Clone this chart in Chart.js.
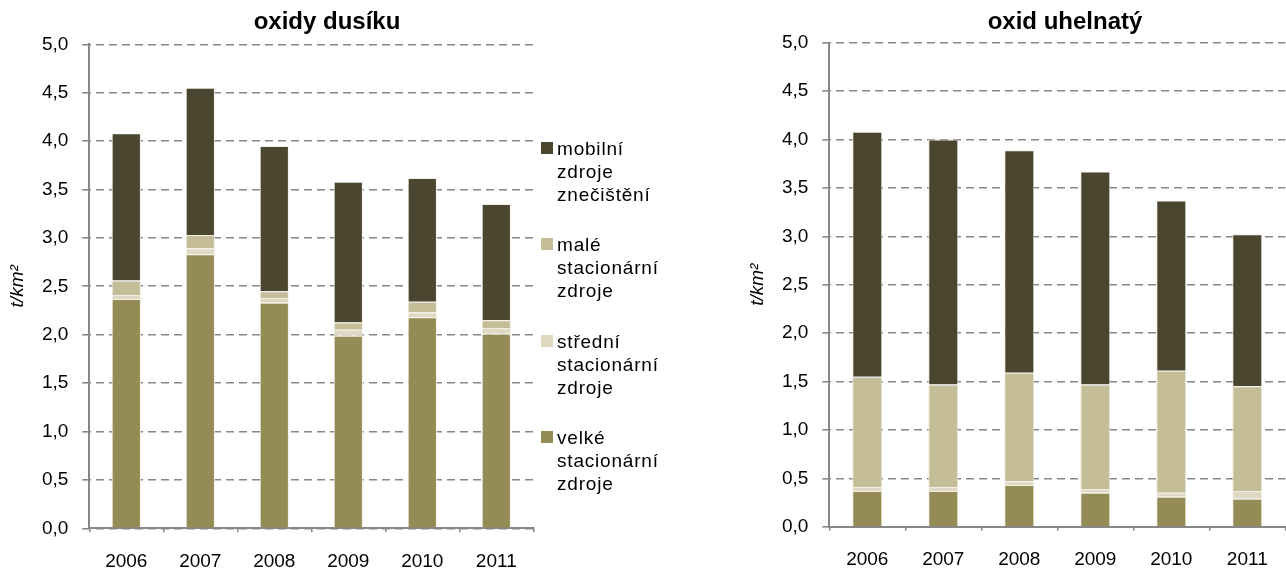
<!DOCTYPE html>
<html>
<head>
<meta charset="utf-8">
<script src="https://cdn.jsdelivr.net/npm/chart.js@4.4.1/dist/chart.umd.min.js"></script>
<style>
    html, body { margin: 0; padding: 0; background: #fff; overflow: hidden; }
    body { width: 1286px; height: 573px; position: relative; font-family: "Liberation Sans", Arial, sans-serif; }
    .box { position: absolute; top: 0; height: 573px; }
    #leftBox { left: 0; width: 654px; }
    #rightBox { left: 740px; width: 650px; }
    #legend { position: absolute; left: 541px; top: 137px; font-size: 19px; line-height: 23px; letter-spacing: 0.8px; color: #000; }
    .item { position: absolute; left: 0; width: 140px; }
    .sw { position: absolute; left: 0; top: 5px; width: 12px; height: 12px; }
    .txt { margin-left: 16px; white-space: nowrap; }
</style>
</head>
<body>
<div class="box" id="leftBox"><canvas id="noxChart"></canvas></div>
<div class="box" id="rightBox"><canvas id="coChart"></canvas></div>
<div id="legend"></div>

<script>
const years = ['2006', '2007', '2008', '2009', '2010', '2011'];

// oxidy dusíku (t/km2)
const noxVelke = [2.37, 2.83, 2.33, 1.99, 2.18, 2.01];
const noxStredni = [0.04, 0.06, 0.05, 0.06, 0.05, 0.06];
const noxMale = [0.15, 0.14, 0.07, 0.075, 0.11, 0.08];
const noxMobilni = [1.52, 1.52, 1.50, 1.455, 1.28, 1.20];

// oxid uhelnatý (t/km2)
const coVelke = [0.37, 0.37, 0.43, 0.35, 0.31, 0.29];
const coStredni = [0.04, 0.04, 0.04, 0.04, 0.04, 0.08];
const coMale = [1.14, 1.06, 1.12, 1.08, 1.26, 1.08];
const coMobilni = [2.53, 2.53, 2.30, 2.20, 1.76, 1.57];

const seriesNames = [
    ['velké', 'stacionární', 'zdroje'],
    ['střední', 'stacionární', 'zdroje'],
    ['malé', 'stacionární', 'zdroje'],
    ['mobilní', 'zdroje', 'znečištění']
];
const seriesColors = ['#958b55', '#dfd9c3', '#c5bd98', '#4a4630'];

const yTicks = [0, 0.5, 1, 1.5, 2, 2.5, 3, 3.5, 4, 4.5, 5];

const FONT = '"Liberation Sans", Arial, sans-serif';
const GRAY = '#878787';
const TITLE_SIZE = 24;

function makeDatasets(series) {
    return series.map((values, i) => ({
        label: seriesNames[i].join(' '),
        data: values,
        backgroundColor: seriesColors[i],
        borderColor: '#f1efe6',
        borderWidth: 1,
        categoryPercentage: 1,
        barPercentage: 0.395
    }));
}

function makeChart(id, title, series, rightSpace, plotTop, plotBottom) {
    const titleTop = 22 - TITLE_SIZE * 0.6;
    const titleBottom = plotTop - titleTop - TITLE_SIZE * 1.2;
    return new Chart(document.getElementById(id), {
        type: 'bar',
        data: { labels: years, datasets: makeDatasets(series) },
        options: {
            responsive: true,
            maintainAspectRatio: false,
            animation: false,
            layout: { padding: 0 },
            plugins: {
                legend: { display: false },
                tooltip: { enabled: false },
                title: {
                    display: true,
                    text: title,
                    color: '#000',
                    font: { family: FONT, size: TITLE_SIZE, weight: 'bold' },
                    padding: { top: titleTop, bottom: titleBottom }
                }
            },
            scales: {
                x: {
                    stacked: true,
                    afterFit: scale => { scale.height = 573 - plotBottom; },
                    grid: {
                        display: true,
                        offset: true,
                        drawOnChartArea: false,
                        drawTicks: true,
                        tickLength: 4,
                        color: GRAY,
                        lineWidth: 1.5
                    },
                    border: { display: true, color: GRAY, width: 2 },
                    ticks: {
                        color: '#000',
                        padding: 18,
                        font: { family: FONT, size: 19 }
                    }
                },
                y: {
                    stacked: true,
                    min: 0,
                    max: 5,
                    afterFit: scale => { scale.width = 89.3; },
                    afterBuildTicks: scale => { scale.ticks = yTicks.map(v => ({ value: v })); },
                    grid: {
                        color: GRAY,
                        lineWidth: 1.6,
                        tickLength: 7,
                        tickBorderDash: [],
                        tickColor: GRAY,
                        tickWidth: 1.6
                    },
                    border: { display: true, color: GRAY, width: 2, dash: [8, 5], dashOffset: 7 },
                    ticks: {
                        color: '#000',
                        padding: 14,
                        font: { family: FONT, size: 19 },
                        callback: v => v.toFixed(1).replace('.', ',')
                    },
                    title: {
                        display: true,
                        text: 't/km²',
                        color: '#000',
                        font: { family: FONT, size: 19, style: 'italic' },
                        padding: { top: 6, bottom: 0 }
                    }
                },
                // empty right-hand box: keeps room for the legend so the title centres on the whole chart
                side: {
                    position: 'right',
                    display: true,
                    afterFit: scale => { scale.width = rightSpace; },
                    grid: { display: false, drawTicks: false },
                    border: { display: false },
                    ticks: { display: false }
                }
            }
        }
    });
}

makeChart('noxChart', 'oxidy dusíku', [noxVelke, noxStredni, noxMale, noxMobilni], 654 - 533.3, 44.3, 528.3);
makeChart('coChart', 'oxid uhelnatý', [coVelke, coStredni, coMale, coMobilni], 650 - 545.3, 42.7, 526.7);

// legend for the left chart, top series first
const legend = document.getElementById('legend');
[3, 2, 1, 0].forEach((s, row) => {
    const item = document.createElement('div');
    item.className = 'item';
    item.style.top = (row * 96.3) + 'px';
    const sw = document.createElement('div');
    sw.className = 'sw';
    sw.style.background = seriesColors[s];
    const txt = document.createElement('div');
    txt.className = 'txt';
    txt.innerHTML = seriesNames[s].join('<br>');
    item.appendChild(sw);
    item.appendChild(txt);
    legend.appendChild(item);
});
</script>
</body>
</html>
